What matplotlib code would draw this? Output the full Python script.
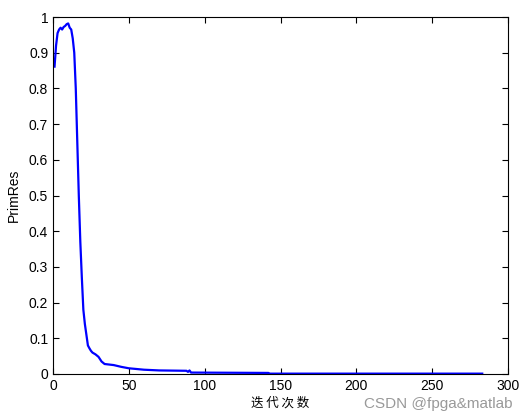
import numpy as np
import matplotlib
matplotlib.use('Agg')
import matplotlib.pyplot as plt

# values
iters = [1, 2, 3, 4, 5, 6, 7, 8, 9, 10, 11, 12, 13, 14, 15, 16, 17, 18, 19,
         20, 21, 22, 23, 24, 25, 26, 28, 30, 32, 34, 36, 40, 45, 50, 60, 70,
         88, 89, 90, 91, 142, 143, 283]
prim_res = [0.861, 0.92, 0.955, 0.965, 0.97, 0.965, 0.972, 0.975, 0.98,
            0.982, 0.97, 0.965, 0.94, 0.90, 0.80, 0.65, 0.50, 0.37, 0.27,
            0.18, 0.14, 0.11, 0.08, 0.072, 0.065, 0.06, 0.055, 0.048, 0.035,
            0.028, 0.027, 0.025, 0.02, 0.016, 0.012, 0.01,
            0.009, 0.006, 0.01, 0.004, 0.003, 0.001, 0.001]

xticks = np.arange(0, 301, 50)
yticks = np.round(np.arange(0, 1.01, 0.1), 1)

plt.rcParams['font.family'] = ['Liberation Sans', 'Noto Sans CJK SC']

fig = plt.figure(figsize=(5.26, 4.15), dpi=100)
ax = fig.add_axes([0.1008, 0.0988, 0.865, 0.8602])

ax.plot(iters, prim_res, color='#0000ff', linewidth=1.6)

ax.set_xlim(0, 300)
ax.set_ylim(0, 1)
ax.set_xticks(xticks)
ax.set_yticks(yticks)
ax.set_yticklabels([('%g' % v) for v in yticks])
ax.tick_params(direction='in', top=True, right=True, labelsize=10,
               length=4, width=0.8)
for sp in ax.spines.values():
    sp.set_linewidth(0.8)

ax.set_xlabel('迭 代 次 数', family=['Noto Sans CJK SC'], fontsize=9,
              labelpad=3)
ax.set_ylabel('PrimRes', fontsize=10, labelpad=6)

# watermark
fig.text(0.975, 0.01, 'CSDN @fpga&matlab', ha='right', va='bottom',
         color='#999999', fontsize=11)

fig.savefig('out.png', dpi=100)
